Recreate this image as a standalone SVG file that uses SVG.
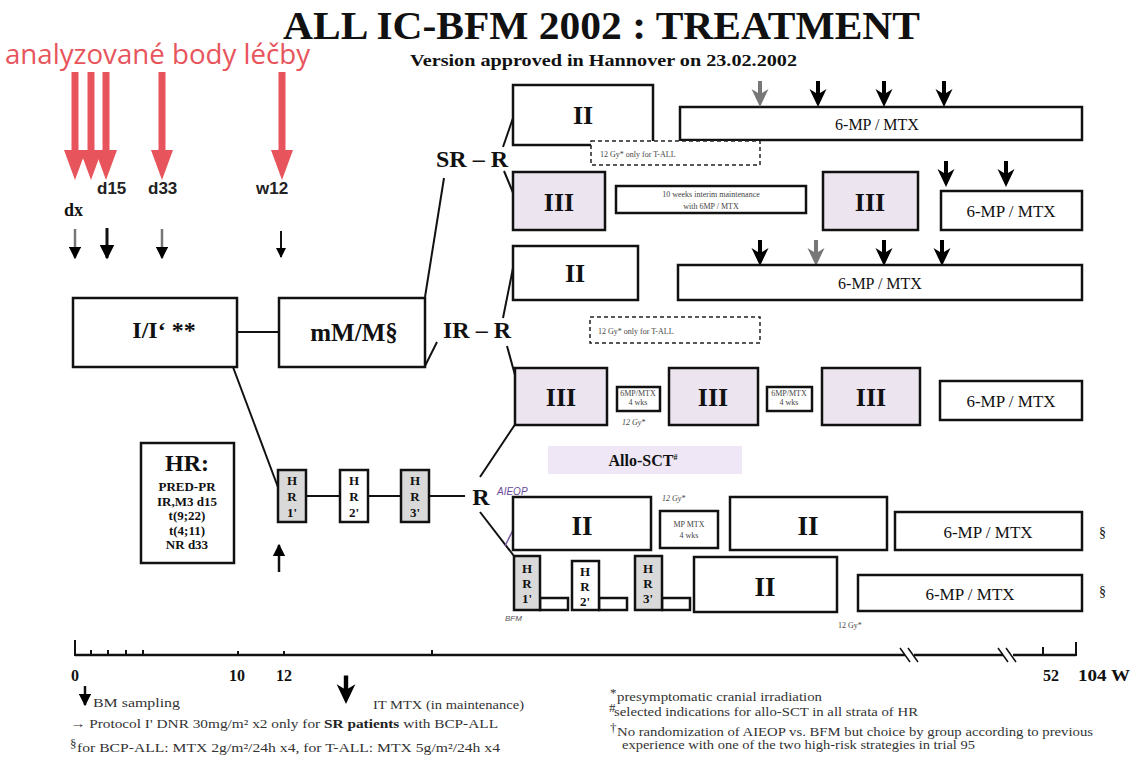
<svg xmlns="http://www.w3.org/2000/svg" width="1134" height="764" viewBox="0 0 1134 764">
<style>
.box{fill:#fff;stroke:#111;stroke-width:2.5}
.pbox{fill:#ece5f0;stroke:#111;stroke-width:2.5}
.gbox{fill:#d9d9d9;stroke:#111;stroke-width:2.5}
.dash{fill:#fff;stroke:#222;stroke-width:1.5;stroke-dasharray:4 3}
.ln{stroke:#111;stroke-width:2;fill:none}
.t{font-family:"Liberation Serif",serif;fill:#111}
.b{font-weight:bold}
.s{font-family:"Liberation Sans",Arial,sans-serif;font-weight:bold;fill:#222}
.sm{font-family:"Liberation Serif",serif;fill:#444;font-size:8px}
.leg{font-family:"Liberation Serif",serif;fill:#333;font-size:13px}
.red{fill:#e8545c}
</style>
<defs>
<path id="fa" d="M-2,-26 H2 V-14 L8.5,-18 L0,0 L-8.5,-18 L-2,-14 Z"/>
<marker id="ah" viewBox="0 0 10 10" refX="9" refY="5" markerWidth="5" markerHeight="5" orient="auto">
<path d="M0,0 L10,5 L0,10 z"/>
</marker>
</defs>
<rect width="1134" height="764" fill="#fff"/>

<g id="title">
<text class="t b" x="283" y="39" font-size="40" textLength="637" lengthAdjust="spacingAndGlyphs">ALL IC-BFM 2002 : TREATMENT</text>
<text class="t b" x="410" y="66" font-size="16" fill="#222" textLength="387" lengthAdjust="spacingAndGlyphs">Version approved in Hannover on 23.02.2002</text>
</g>

<g id="analyzed-points">
<text x="5" y="64" font-family="Open Sans, sans-serif" font-size="27" fill="#e8545c" textLength="305" lengthAdjust="spacingAndGlyphs">analyzované body léčby</text>
<polygon class="red" points="71.5,72 78.5,72 78.5,150 86,150 75,180 64,150 71.5,150"/>
<polygon class="red" points="87.5,72 94.5,72 94.5,150 102,150 91,180 80,150 87.5,150"/>
<polygon class="red" points="102.5,72 109.5,72 109.5,150 117,150 106,180 95,150 102.5,150"/>
<polygon class="red" points="158.5,72 165.5,72 165.5,150 173,150 162,180 151,150 158.5,150"/>
<polygon class="red" points="278.5,72 285.5,72 285.5,150 293,150 282,180 271,150 278.5,150"/>
<text class="s" x="97" y="194" font-size="17">d15</text>
<text class="s" x="148" y="194" font-size="17">d33</text>
<text class="s" x="256" y="194" font-size="17">w12</text>
<text class="t b" x="64" y="216" font-size="18">dx</text>
</g>

<g id="bm-arrows">
<line x1="75" y1="229" x2="75" y2="258" stroke="#777" stroke-width="2.5" marker-end="url(#ah)"/>
<line x1="107" y1="228" x2="107" y2="258" stroke="#111" stroke-width="3" marker-end="url(#ah)"/>
<line x1="162" y1="229" x2="162" y2="258" stroke="#777" stroke-width="2.5" marker-end="url(#ah)"/>
<line x1="281" y1="231" x2="281" y2="257" stroke="#111" stroke-width="2" marker-end="url(#ah)"/>
</g>

<g id="connectors">
<line class="ln" x1="237" y1="332" x2="279" y2="332"/>
<line class="ln" x1="425" y1="297" x2="444" y2="178"/>
<line class="ln" x1="503" y1="147" x2="513" y2="118"/>
<line class="ln" x1="504" y1="171" x2="514" y2="195"/>
<line class="ln" x1="425" y1="366" x2="437" y2="342"/>
<line class="ln" x1="503" y1="318" x2="513" y2="268"/>
<line class="ln" x1="507" y1="346" x2="515" y2="375"/>
<line class="ln" x1="233" y1="367" x2="279" y2="490"/>
<line class="ln" x1="306" y1="496" x2="340" y2="496"/>
<line class="ln" x1="368" y1="496" x2="401" y2="496"/>
<line class="ln" x1="429" y1="496" x2="465" y2="496"/>
<line class="ln" x1="480" y1="477" x2="516" y2="423" stroke="#333"/>
<line class="ln" x1="480" y1="512" x2="514" y2="556" stroke="#333"/>
<line x1="505" y1="546" x2="513" y2="530" stroke="#7a5aa0" stroke-width="1.5"/>
<line x1="279" y1="572" x2="279" y2="545" stroke="#111" stroke-width="2.5" marker-end="url(#ah)"/>
</g>

<g id="induction">
<rect class="box" x="73" y="298" width="164" height="69"/>
<text class="t b" x="164" y="338" font-size="24" text-anchor="middle">I/I‘ **</text>
</g>
<g id="consolidation">
<rect class="box" x="279" y="298" width="146" height="69"/>
<text class="t b" x="354" y="341" font-size="25" text-anchor="middle">mM/M§</text>
</g>

<g id="sr-r">
<text class="t b" x="472" y="167" font-size="24" text-anchor="middle">SR – R</text>
<rect class="box" x="513" y="85" width="140" height="60"/>
<text class="t b" x="583" y="124" font-size="26" text-anchor="middle">II</text>
<rect class="box" x="680" y="107" width="402" height="33"/>
<text class="t" x="877" y="130" font-size="16" text-anchor="middle">6-MP / MTX</text>
<use href="#fa" x="760" y="107" fill="#777"/>
<use href="#fa" x="818" y="107"/>
<use href="#fa" x="884" y="107"/>
<use href="#fa" x="944" y="107"/>
<rect class="dash" x="591" y="141" width="169" height="24"/>
<text class="sm" x="600" y="157" font-size="10">12 Gy* only for T-ALL</text>
<rect class="pbox" x="513" y="172" width="92" height="58"/>
<text class="t b" x="559" y="211" font-size="26" text-anchor="middle">III</text>
<rect class="box" x="616" y="186" width="190" height="27"/>
<text class="sm" x="711" y="197" font-size="8" text-anchor="middle">10 weeks interim maintenance</text>
<text class="sm" x="711" y="209" font-size="8" text-anchor="middle">with 6MP / MTX</text>
<rect class="pbox" x="823" y="172" width="95" height="58"/>
<text class="t b" x="870" y="211" font-size="26" text-anchor="middle">III</text>
<use href="#fa" x="946" y="187"/>
<use href="#fa" x="1006" y="187"/>
<rect class="box" x="941" y="191" width="141" height="39"/>
<text class="t" x="1011" y="217" font-size="17" text-anchor="middle">6-MP / MTX</text>
</g>

<g id="ir-r">
<text class="t b" x="477" y="338" font-size="24" text-anchor="middle">IR – R</text>
<rect class="box" x="513" y="246" width="125" height="54"/>
<text class="t b" x="575" y="282" font-size="26" text-anchor="middle">II</text>
<use href="#fa" x="760" y="266"/>
<use href="#fa" x="816" y="266" fill="#777"/>
<use href="#fa" x="884" y="266"/>
<use href="#fa" x="942" y="266"/>
<rect class="box" x="678" y="265" width="404" height="35"/>
<text class="t" x="880" y="289" font-size="16" text-anchor="middle">6-MP / MTX</text>
<rect class="dash" x="590" y="317" width="170" height="26"/>
<text class="sm" x="598" y="334" font-size="10">12 Gy* only for T-ALL</text>
<rect class="pbox" x="515" y="368" width="92" height="57"/>
<text class="t b" x="561" y="406" font-size="26" text-anchor="middle">III</text>
<rect class="box" x="617" y="387" width="43" height="24"/>
<text class="sm" x="638" y="396" font-size="6" text-anchor="middle">6MP/MTX</text>
<text class="sm" x="638" y="405" font-size="6" text-anchor="middle">4 wks</text>
<text class="sm" x="622" y="425" font-style="italic" font-size="8">12 Gy*</text>
<rect class="pbox" x="669" y="368" width="89" height="57"/>
<text class="t b" x="713" y="406" font-size="26" text-anchor="middle">III</text>
<rect class="box" x="767" y="387" width="45" height="24"/>
<text class="sm" x="789" y="396" font-size="6" text-anchor="middle">6MP/MTX</text>
<text class="sm" x="789" y="405" font-size="6" text-anchor="middle">4 wks</text>
<rect class="pbox" x="822" y="368" width="98" height="57"/>
<text class="t b" x="871" y="406" font-size="26" text-anchor="middle">III</text>
<rect class="box" x="940" y="381" width="142" height="39"/>
<text class="t" x="1011" y="407" font-size="17" text-anchor="middle">6-MP / MTX</text>
</g>

<g id="allo-sct">
<rect x="548" y="446" width="194" height="28" fill="#efe7f5"/>
<text class="t b" x="643" y="466" font-size="16" text-anchor="middle">Allo-SCT<tspan font-size="8" dy="-6">#</tspan></text>
</g>

<g id="hr-criteria">
<rect class="box" x="141" y="443" width="93" height="120" stroke-width="2"/>
<text class="t b" x="187" y="471" font-size="24" text-anchor="middle">HR:</text>
<g class="t b" font-size="13" text-anchor="middle" fill="#3a3040">
<text x="187" y="491">PRED-PR</text>
<text x="187" y="505.5">IR,M3 d15</text>
<text x="187" y="520">t(9;22)</text>
<text x="187" y="534.5">t(4;11)</text>
<text x="187" y="549">NR d33</text>
</g>
</g>

<g id="hr-blocks">
<rect class="gbox" x="278" y="470" width="28" height="52"/>
<rect class="box" x="340" y="470" width="28" height="52"/>
<rect class="gbox" x="401" y="470" width="28" height="52"/>
<g class="t b" font-size="13" text-anchor="middle">
<text x="292" y="485">H</text><text x="292" y="501">R</text><text x="292" y="517">1'</text>
<text x="354" y="485">H</text><text x="354" y="501">R</text><text x="354" y="517">2'</text>
<text x="415" y="485">H</text><text x="415" y="501">R</text><text x="415" y="517">3'</text>
</g>
<text class="t b" x="481" y="505" font-size="24" text-anchor="middle">R</text>
<text x="497" y="495" font-family="Liberation Sans, sans-serif" font-style="italic" font-size="10" fill="#6a4a9a">AIEOP</text>
</g>

<g id="aieop-arm">
<text class="sm" x="662" y="501" font-style="italic" font-size="8">12 Gy*</text>
<rect class="box" x="513" y="497" width="138" height="53"/>
<text class="t b" x="582" y="535" font-size="27" text-anchor="middle">II</text>
<rect class="box" x="660" y="511" width="58" height="37"/>
<text class="sm" x="689" y="527" font-size="8" text-anchor="middle">MP MTX</text>
<text class="sm" x="689" y="538" font-size="8" text-anchor="middle">4 wks</text>
<rect class="box" x="730" y="497" width="157" height="53"/>
<text class="t b" x="808" y="535" font-size="27" text-anchor="middle">II</text>
<rect class="box" x="895" y="512" width="187" height="38"/>
<text class="t" x="988" y="538" font-size="17" text-anchor="middle">6-MP / MTX</text>
<text class="t" x="1099" y="537" font-size="14">§</text>
</g>

<g id="bfm-arm">
<rect class="box" x="540" y="598" width="28" height="12" stroke-width="2"/>
<rect class="box" x="599" y="598" width="28" height="12" stroke-width="2"/>
<rect class="box" x="662" y="598" width="28" height="12" stroke-width="2"/>
<rect class="gbox" x="514" y="556" width="26" height="54"/>
<rect class="box" x="572" y="561" width="27" height="49"/>
<rect class="gbox" x="635" y="556" width="27" height="54"/>
<g class="t b" font-size="13" text-anchor="middle">
<text x="527" y="573">H</text><text x="527" y="588">R</text><text x="527" y="603">1'</text>
<text x="585" y="576">H</text><text x="585" y="591">R</text><text x="585" y="606">2'</text>
<text x="648" y="573">H</text><text x="648" y="588">R</text><text x="648" y="603">3'</text>
</g>
<text x="505" y="621" font-family="Liberation Sans, sans-serif" font-style="italic" font-size="8" fill="#555">BFM</text>
<rect class="box" x="694" y="557" width="143" height="55"/>
<text class="t b" x="765" y="596" font-size="27" text-anchor="middle">II</text>
<rect class="box" x="858" y="575" width="224" height="36"/>
<text class="t" x="970" y="600" font-size="17" text-anchor="middle">6-MP / MTX</text>
<text class="t" x="1099" y="596" font-size="14">§</text>
<text class="sm" x="838" y="628" font-size="8">12 Gy*</text>
</g>

<g id="timeline">
<line x1="75" y1="655" x2="905" y2="655" stroke="#111" stroke-width="2.5"/>
<line x1="914" y1="655" x2="1003" y2="655" stroke="#111" stroke-width="2.5"/>
<line x1="1013" y1="655" x2="1076" y2="655" stroke="#111" stroke-width="2.5"/>
<path d="M75,640 V656 M91,650 V655 M108,650 V655 M126,650 V655 M143,650 V655 M238,651 V655 M284,651 V655 M432,650 V655 M1043,647 V655 M1076,642 V656" stroke="#111" stroke-width="2"/>
<path d="M900,648 L910,662 M908,648 L918,662 M998,648 L1008,662 M1006,648 L1016,662" stroke="#111" stroke-width="1.5"/>
<g class="t b" font-size="16">
<text x="71" y="681">0</text>
<text x="229" y="681">10</text>
<text x="276" y="681">12</text>
<text x="1043" y="681">52</text>
<text x="1078" y="681" textLength="52" lengthAdjust="spacingAndGlyphs">104 W</text>
</g>
</g>

<g id="legend">
<line x1="85" y1="686" x2="85" y2="705" stroke="#111" stroke-width="2.5" marker-end="url(#ah)"/>
<text class="leg" x="93" y="707" textLength="87" lengthAdjust="spacingAndGlyphs">BM sampling</text>
<use href="#fa" x="346" y="704" transform="translate(-34.6 -70.4) scale(1.1)"/>
<text class="leg" x="373" y="709" textLength="151" lengthAdjust="spacingAndGlyphs">IT MTX (in maintenance)</text>
<text class="leg" x="70" y="728" textLength="428" lengthAdjust="spacingAndGlyphs">→ Protocol I'   DNR 30mg/m² x2 only for <tspan font-weight="bold" fill="#222">SR patients</tspan> with BCP-ALL</text>
<text class="leg" x="70" y="748" font-size="8">§</text>
<text class="leg" x="77" y="752" textLength="423" lengthAdjust="spacingAndGlyphs">for BCP-ALL: MTX 2g/m²/24h x4, for T-ALL: MTX 5g/m²/24h x4</text>
<text class="leg" x="610" y="697" font-size="8">*</text>
<text class="leg" x="617" y="701" textLength="205" lengthAdjust="spacingAndGlyphs">presymptomatic cranial irradiation</text>
<text class="leg" x="609" y="712" font-size="8">#</text>
<text class="leg" x="614" y="716" textLength="304" lengthAdjust="spacingAndGlyphs">selected indications for allo-SCT in all strata of HR</text>
<text class="leg" x="610" y="732" font-size="8">†</text>
<text class="leg" x="617" y="736" textLength="476" lengthAdjust="spacingAndGlyphs">No randomization of AIEOP vs. BFM but choice by group according to previous</text>
<text class="leg" x="622" y="749" textLength="353" lengthAdjust="spacingAndGlyphs">experience with one of the two high-risk strategies in trial 95</text>
</g>
</svg>
